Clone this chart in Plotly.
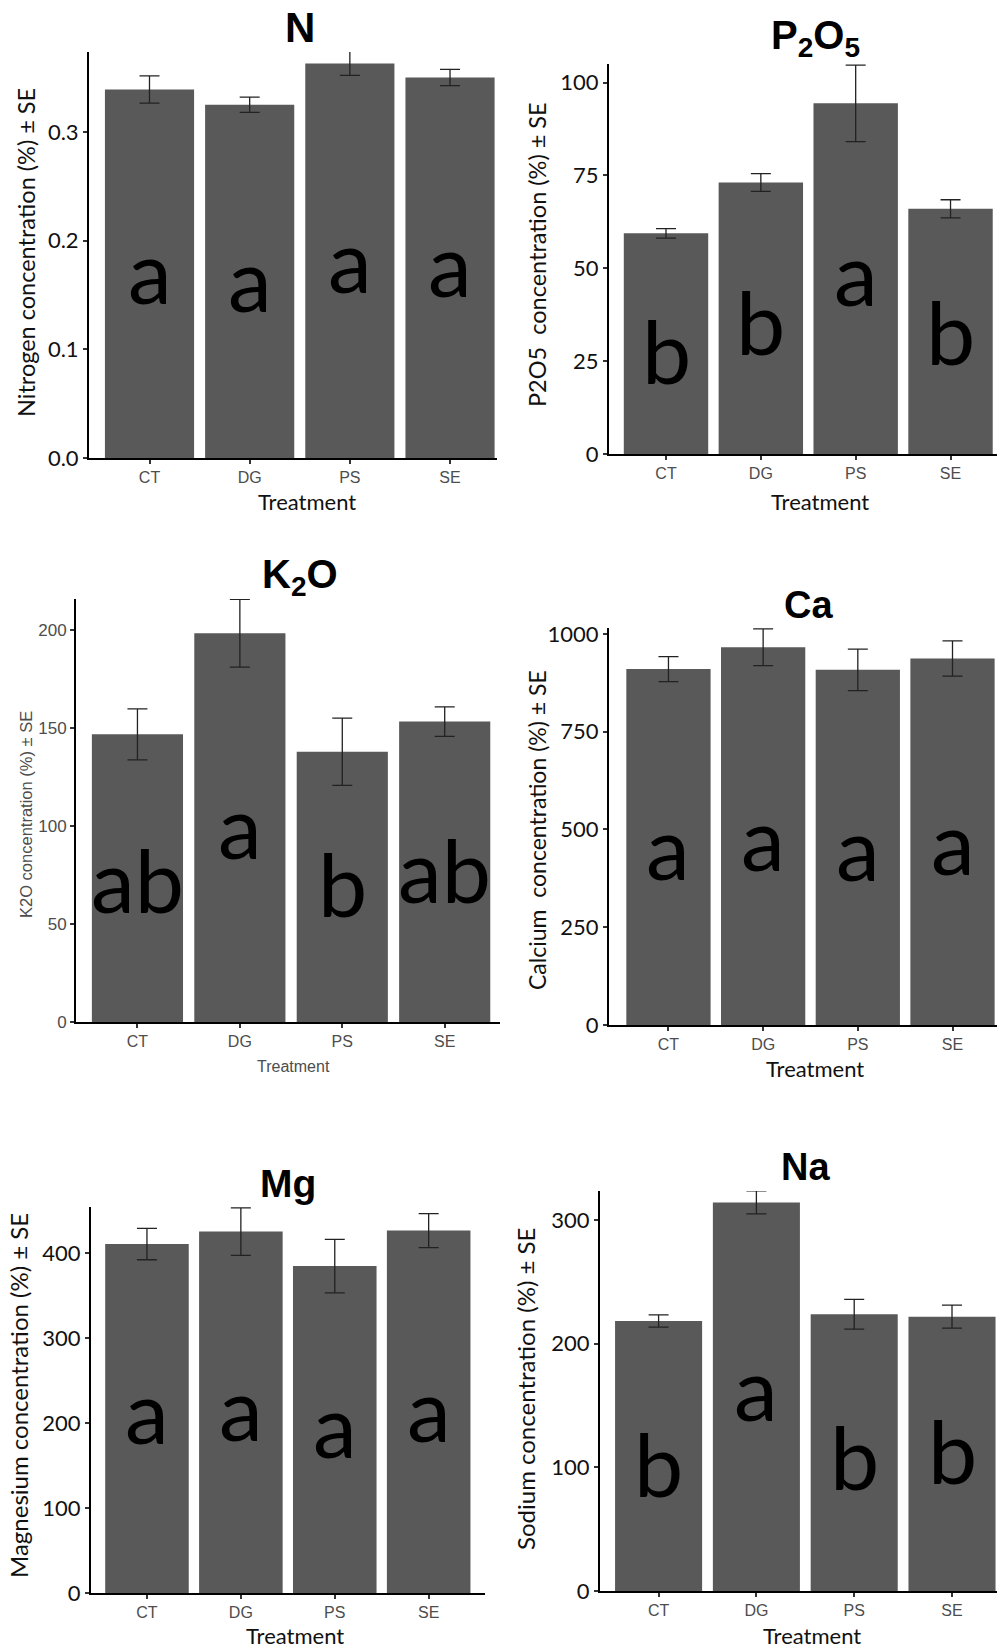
import plotly.graph_objects as go

W, H = 1000, 1648

treatments = ["CT", "DG", "PS", "SE"]

n_mean = [0.339, 0.325, 0.363, 0.350]
n_se = [0.0125, 0.007, 0.011, 0.0075]
n_letters = ["a", "a", "a", "a"]

p_mean = [59.4, 73.1, 94.4, 66.0]
p_se = [1.3, 2.4, 10.3, 2.45]
p_letters = ["b", "b", "a", "b"]

k_mean = [146.9, 198.5, 138.0, 153.4]
k_se = [13.0, 17.3, 17.2, 7.5]
k_letters = ["ab", "a", "b", "ab"]

ca_mean = [910.0, 966.0, 908.0, 937.0]
ca_se = [32.0, 47.0, 53.0, 45.0]
ca_letters = ["a", "a", "a", "a"]

mg_mean = [411.0, 425.6, 385.0, 426.8]
mg_se = [18.5, 28.0, 31.5, 20.0]
mg_letters = ["a", "a", "a", "a"]

na_mean = [218.3, 314.2, 223.7, 221.8]
na_se = [5.0, 9.3, 12.0, 9.3]
na_letters = ["b", "a", "b", "b"]

n_ticks = [0.0, 0.1, 0.2, 0.3]
n_ticktext = ["0.0", "0.1", "0.2", "0.3"]
p_ticks = [0, 25, 50, 75, 100]
k_ticks = [0, 50, 100, 150, 200]
ca_ticks = [0, 250, 500, 750, 1000]
mg_ticks = [0, 100, 200, 300, 400]
na_ticks = [0, 100, 200, 300]

# label positions (glyph centre, data units)
n_lab_y = [0.161, 0.154, 0.171, 0.167]
p_lab_y = [26.1, 33.9, 45.5, 31.2]
k_lab_y = [69.4, 94.1, 67.6, 74.7]
ca_lab_y = [425, 448, 422, 436]
mg_lab_y = [200, 204, 184, 202]
na_lab_y = [97.8, 154.4, 103.2, 108.6]

MAIN = "Lato, 'Open Sans', sans-serif"
ARIAL = "'Liberation Sans', Arial, sans-serif"

panels = [
    dict(mean=n_mean, se=n_se, letters=n_letters, laby=n_lab_y, ticks=n_ticks, ticktext=n_ticktext,
         px=(89, 497), py=(52, 458), yr=(0, 0.3735), xr=(-0.604, 3.469),
         title="<b>N</b>", tpos=(300, 27), tsize=42,
         ytitle="Nitrogen concentration (%) ± SE", ypos=(26, 253), ysize=23.5,
         xpos=(307, 502), style="main"),
    dict(mean=p_mean, se=p_se, letters=p_letters, laby=p_lab_y, ticks=p_ticks, ticktext=None,
         px=(609, 997), py=(64, 454), yr=(0, 105), xr=(-0.601, 3.49),
         title="<b>P<sub>2</sub>O<sub>5</sub></b>", tpos=(815, 38), tsize=40,
         ytitle="P2O5\u00a0 concentration (%) ± SE", ypos=(537, 255), ysize=23.5,
         xpos=(820, 502), style="main"),
    dict(mean=k_mean, se=k_se, letters=k_letters, laby=k_lab_y, ticks=k_ticks, ticktext=None,
         px=(76, 500), py=(599, 1022), yr=(0, 216), xr=(-0.6, 3.54),
         title="<b>K<sub>2</sub>O</b>", tpos=(300, 577), tsize=40,
         ytitle="K2O concentration (%) ± SE", ypos=(26, 815), ysize=16.5,
         xpos=(293, 1066), style="ggplot"),
    dict(mean=ca_mean, se=ca_se, letters=ca_letters, laby=ca_lab_y, ticks=ca_ticks, ticktext=None,
         px=(609, 997), py=(628, 1025), yr=(0, 1015), xr=(-0.628, 3.47),
         title="<b>Ca</b>", tpos=(808, 605), tsize=38,
         ytitle="Calcium\u00a0 concentration (%) ± SE", ypos=(537, 830), ysize=23,
         xpos=(815, 1068), style="main"),
    dict(mean=mg_mean, se=mg_se, letters=mg_letters, laby=mg_lab_y, ticks=mg_ticks, ticktext=None,
         px=(91, 485), py=(1207, 1593), yr=(0, 454.6), xr=(-0.596, 3.6),
         title="<b>Mg</b>", tpos=(288, 1183), tsize=39,
         ytitle="Magnesium concentration (%) ± SE", ypos=(18, 1396), ysize=24,
         xpos=(295, 1635), style="main"),
    dict(mean=na_mean, se=na_se, letters=na_letters, laby=na_lab_y, ticks=na_ticks, ticktext=None,
         px=(600, 997), py=(1191, 1591), yr=(0, 323.4), xr=(-0.599, 3.46),
         title="<b>Na</b>", tpos=(805, 1167), tsize=38,
         ytitle="Sodium concentration (%) ± SE", ypos=(525, 1389), ysize=24,
         xpos=(812, 1635), style="main"),
]

fig = go.Figure()
annotations = []
layout = {}

for i, p in enumerate(panels, start=1):
    xa = "x" if i == 1 else f"x{i}"
    ya = "y" if i == 1 else f"y{i}"
    fig.add_trace(go.Bar(
        x=treatments, y=p["mean"], xaxis=xa, yaxis=ya,
        marker=dict(color="#595959", line=dict(width=0)),
        error_y=dict(type="data", array=p["se"], color="#222222", thickness=1.3, width=10),
        width=0.89, showlegend=False, hoverinfo="skip",
    ))
    g = p["style"] == "ggplot"
    tickfont = dict(family=ARIAL, size=17, color="#4d4d4d") if g else dict(family=MAIN, size=22, color="#111111")
    xdom = [p["px"][0] / W, p["px"][1] / W]
    ydom = [1 - p["py"][1] / H, 1 - p["py"][0] / H]
    layout["xaxis" if i == 1 else f"xaxis{i}"] = dict(
        domain=xdom, anchor=ya, type="category", range=list(p["xr"]), automargin=False,
        showline=True, linecolor="black", linewidth=2, ticks="outside", ticklen=4,
        tickcolor="#333333", tickwidth=1.5, showgrid=False, zeroline=False,
        tickfont=dict(family=ARIAL, size=16, color="#4d4d4d"), fixedrange=True,
    )
    yax = dict(
        domain=ydom, anchor=xa, range=list(p["yr"]), automargin=False,
        showline=True, linecolor="black", linewidth=2, ticks="outside", ticklen=4,
        tickcolor="#333333", tickwidth=1.5, showgrid=False, zeroline=False,
        tickvals=p["ticks"], tickfont=tickfont, fixedrange=True,
    )
    if p["ticktext"]:
        yax["ticktext"] = p["ticktext"]
    layout["yaxis" if i == 1 else f"yaxis{i}"] = yax

    annotations.append(dict(text=p["title"], x=p["tpos"][0] / W, y=1 - p["tpos"][1] / H,
                            xref="paper", yref="paper", showarrow=False,
                            xanchor="center", yanchor="middle",
                            font=dict(family=ARIAL, size=p["tsize"], color="black")))
    yfont = dict(family=ARIAL, size=p["ysize"], color="#4d4d4d") if g else dict(family=MAIN, size=p["ysize"], color="#111111")
    annotations.append(dict(text=p["ytitle"], x=p["ypos"][0] / W, y=1 - p["ypos"][1] / H,
                            xref="paper", yref="paper", showarrow=False, textangle=-90,
                            xanchor="center", yanchor="middle", font=yfont))
    xfont = dict(family=ARIAL, size=16, color="#4d4d4d") if g else dict(family=MAIN, size=22, color="#111111")
    annotations.append(dict(text="Treatment", x=p["xpos"][0] / W, y=1 - p["xpos"][1] / H,
                            xref="paper", yref="paper", showarrow=False,
                            xanchor="center", yanchor="middle", font=xfont))
    for t, lab, ly in zip(treatments, p["letters"], p["laby"]):
        shift = 13 if lab == "a" else 7
        annotations.append(dict(text=lab, x=t, y=ly, xref=xa, yref=ya, showarrow=False,
                                xanchor="center", yanchor="middle", yshift=shift,
                                font=dict(family=MAIN, size=88, color="black")))

fig.update_layout(
    template="none",
    width=W, height=H, autosize=False,
    margin=dict(l=0, r=0, t=0, b=0, pad=0, autoexpand=False),
    paper_bgcolor="white", plot_bgcolor="white",
    annotations=annotations, bargap=0.11, **layout,
)

fig.write_html("out.html", config={"displayModeBar": False, "responsive": False},
               post_script="document.body.style.margin='0';document.body.style.padding='0';")
